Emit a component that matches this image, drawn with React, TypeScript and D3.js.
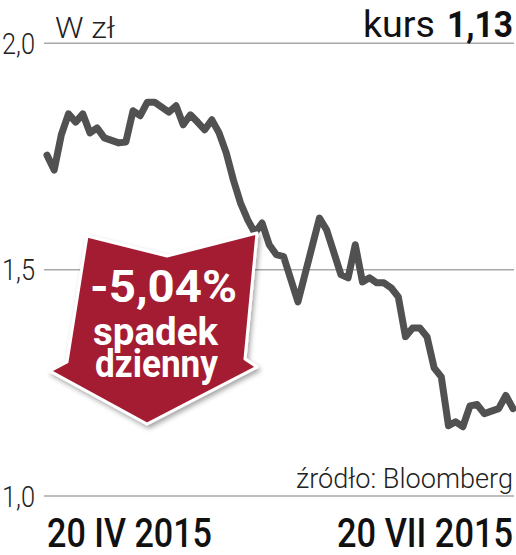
import * as d3 from "d3";

// trading session number counted from 20 IV 2015 (0) to 20 VII 2015 (65)
const sessions = [
  0, 1, 2, 3, 4, 5, 6, 7, 8, 10, 11, 12, 13, 14, 15, 16, 17, 18, 19, 20, 21,
  22, 23, 24, 25, 26, 27, 28, 29, 30, 31, 32, 33, 35, 38, 39, 41, 42, 43, 44,
  45, 46, 47, 48, 49, 50, 51, 52, 53, 54, 55, 56, 57, 58, 59, 60, 61, 63, 64,
  65,
];
const price = [
  1.753, 1.72, 1.798, 1.844, 1.826, 1.844, 1.802, 1.813, 1.791, 1.78, 1.782,
  1.851, 1.84, 1.87, 1.87, 1.859, 1.848, 1.862, 1.82, 1.842, 1.826, 1.809,
  1.831, 1.802, 1.758, 1.698, 1.647, 1.61, 1.581, 1.603, 1.555, 1.533, 1.529,
  1.429, 1.614, 1.588, 1.489, 1.482, 1.555, 1.473, 1.482, 1.471, 1.471, 1.46,
  1.44, 1.352, 1.371, 1.371, 1.352, 1.283, 1.263, 1.155, 1.164, 1.153, 1.199,
  1.202, 1.182, 1.193, 1.222, 1.193,
];
const yTicks = [2.0, 1.5, 1.0];
const yTickLabels = ["2,0", "1,5", "1,0"];
const xLabels = ["20 IV 2015", "20 VII 2015"];

const W = 516,
  H = 555;
const FONT = "Roboto, 'DejaVu Sans', sans-serif";

export default function App() {
  const x = d3.scaleLinear().domain([0, 65]).range([47, 513]);
  const y = d3.scaleLinear().domain([1, 2]).range([496, 43.3]);
  const line = d3
    .line<number>()
    .x((_, i) => x(sessions[i]))
    .y((d) => y(d));

  // the red "down" arrow badge
  const arrow = [
    [87, 236],
    [167, 256],
    [257, 233],
    [245, 359],
    [257, 367],
    [147, 424],
    [50, 371],
    [67, 362],
  ];

  return (
    <svg
      width={W}
      height={H}
      style={{ position: "absolute", left: 0, top: 0, background: "#fff" }}
      fontFamily={FONT}
    >
      <defs>
        <filter id="sh" x="-20%" y="-20%" width="140%" height="140%">
          <feDropShadow dx="2" dy="3" stdDeviation="2.5" floodColor="#000" floodOpacity="0.35" />
        </filter>
      </defs>

      {yTicks.map((t, i) => (
        <g key={t}>
          <line x1={44} x2={514} y1={y(t)} y2={y(t)} stroke="#a8a8a8" strokeWidth={1.5} />
          <text x={2} y={y(t) + 10.5} fontSize={29} fontWeight={300} fill="#222" textLength={33} lengthAdjust="spacingAndGlyphs">
            {yTickLabels[i]}
          </text>
        </g>
      ))}

      <text x={55} y={38} fontSize={29} fontWeight={300} fill="#222" textLength={60} lengthAdjust="spacingAndGlyphs">
        W zł
      </text>
      <text x={363} y={37} fontSize={37} fill="#111" textLength={72} lengthAdjust="spacingAndGlyphs">
        kurs
      </text>
      <text x={447} y={37} fontSize={36} fontWeight={700} fill="#111" textLength={66} lengthAdjust="spacingAndGlyphs">
        1,13
      </text>

      <path d={line(price) ?? ""} fill="none" stroke="#515151" strokeWidth={7} strokeLinejoin="round" strokeLinecap="round" />

      <polygon
        points={arrow.map((p) => p.join(",")).join(" ")}
        fill="#a31b31"
        stroke="#fff"
        strokeWidth={3}
        strokeLinejoin="round"
        filter="url(#sh)"
      />
      <text x={90} y={302} fontSize={45} fontWeight={700} fill="#fff" textLength={147} lengthAdjust="spacingAndGlyphs">
        -5,04%
      </text>
      <text x={93} y={345} fontSize={39} fontWeight={700} fill="#fff" textLength={125} lengthAdjust="spacingAndGlyphs">
        spadek
      </text>
      <text x={95} y={377} fontSize={39} fontWeight={700} fill="#fff" textLength={123} lengthAdjust="spacingAndGlyphs">
        dzienny
      </text>

      <text x={296} y={488} fontSize={27} fontWeight={300} fill="#222" textLength={217} lengthAdjust="spacingAndGlyphs">
        źródło: Bloomberg
      </text>
      <text x={x(0)} y={547} fontSize={40} fontWeight={500} fill="#111" textLength={165} lengthAdjust="spacingAndGlyphs">
        {xLabels[0]}
      </text>
      <text x={x(65)} y={547} fontSize={40} fontWeight={500} fill="#111" textAnchor="end" textLength={176} lengthAdjust="spacingAndGlyphs">
        {xLabels[1]}
      </text>
    </svg>
  );
}
